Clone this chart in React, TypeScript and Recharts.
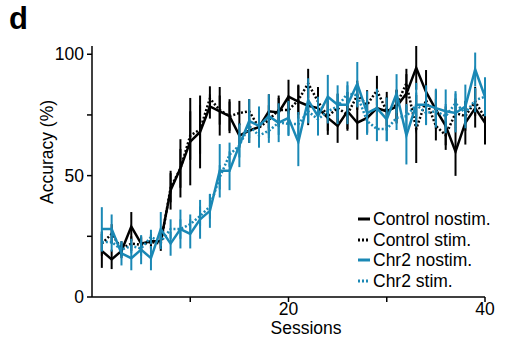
import { LineChart, Line, XAxis, YAxis, ErrorBar } from 'recharts';

const sessions = [1, 2, 3, 4, 5, 6, 7, 8, 9, 10, 11, 12, 13, 14, 15, 16, 17, 18, 19, 20,
  21, 22, 23, 24, 25, 26, 27, 28, 29, 30, 31, 32, 33, 34, 35, 36, 37, 38, 39, 40];

const controlNostim = [19, 15.5, 19, 29, 22, 23, 23, 44, 53, 64, 68, 78.5, 76.5, 74.5, 66.5, 68.5, 70, 76.5, 76, 82.5,
  80.5, 78.8, 77.8, 73.8, 70.5, 76.5, 71.8, 73.8, 77.8, 76.5, 78.5, 83.8, 94.4, 84.5, 77.2, 70.5, 59.9, 71.8, 77.8, 71.8];
const controlStim = [22, 26, 20, 22, 21.5, 22.7, 22, 45, 53, 66.5, 69, 81.8, 77, 74.5, 75.8, 76.5, 69.8, 73, 77, 77,
  81.1, 88, 80.5, 74.5, 77.8, 75.2, 83.1, 79.2, 85.1, 76.5, 79.2, 88, 69.2, 81.1, 70.5, 66.6, 75.8, 74.5, 80.5, 73.8];
const chr2Nostim = [28, 28, 18, 16, 19.5, 16, 28, 22, 28, 26, 32, 35.5, 52, 52, 62.5, 72.5, 70.5, 74.5, 71.8, 73.8,
  63.9, 81.1, 74.5, 82.5, 79.2, 79.2, 87.8, 75.8, 77.8, 73.2, 83.8, 66.6, 79.2, 79.2, 77.8, 76.5, 75.8, 78.5, 93.7, 82.5];
const chr2Stim = [22.7, 22.7, 19.5, 21, 20, 24.7, 22.7, 28, 28, 30, 33.3, 37.3, 49.3, 58.6, 62.5, 70.5, 66.5, 68.5, 71.8, 71.3,
  71.2, 76.5, 73.2, 76.5, 78.5, 83.8, 83.1, 72.5, 69.2, 69.2, 73.8, 74.5, 79.2, 75.8, 76.5, 74.5, 79.8, 75.8, 81.1, 82.5];

// SEM
const controlNostimErr = [7, 4, 3, 6, 3, 3, 3, 8, 12, 18, 15, 5, 10, 7, 5, 5, 6, 7, 6, 7,
  7, 8, 8, 7, 7, 8, 7, 6, 7, 8, 7, 8, 9, 9, 8, 8, 10, 9, 8, 9];
const controlStimErr = [5, 4, 3, 3, 3, 3, 3, 6, 8, 10, 10, 5, 6, 6, 5, 5, 6, 6, 6, 6,
  6, 6, 6, 6, 6, 6, 6, 6, 6, 6, 6, 6, 14, 6, 6, 6, 6, 6, 6, 6];
const chr2NostimErr = [9, 6, 5, 5, 6, 5, 7, 5, 8, 6, 8, 7, 11, 8, 9, 9, 8, 9, 8, 7,
  10, 9, 8, 9, 8, 8, 9, 9, 8, 9, 8, 12, 9, 8, 8, 9, 8, 9, 7, 8];
const chr2StimErr = [4, 4, 3, 3, 3, 3, 3, 4, 4, 4, 4, 5, 5, 5, 5, 5, 5, 5, 5, 5,
  5, 5, 5, 5, 5, 5, 5, 5, 5, 5, 5, 5, 5, 5, 5, 5, 5, 5, 5, 5];

const xTicks = [10, 20, 30, 40];
const xLabels = [20, 40];
const yTicks = [0, 25, 50, 75, 100];
const yLabels = [0, 50, 100];

const BLUE = '#1a88b5';
const FONT = '"Liberation Sans", Arial, sans-serif';

const data = sessions.map((s, i) => ({
  session: s,
  cn: controlNostim[i], cnErr: controlNostimErr[i],
  cs: controlStim[i], csErr: controlStimErr[i],
  bn: chr2Nostim[i], bnErr: chr2NostimErr[i],
  bs: chr2Stim[i], bsErr: chr2StimErr[i],
}));

const legendItems = [
  { label: 'Control nostim.', color: '#000', dash: undefined },
  { label: 'Control stim.', color: '#000', dash: '2 2' },
  { label: 'Chr2 nostim.', color: BLUE, dash: undefined },
  { label: 'Chr2 stim.', color: BLUE, dash: '2 2' },
];

function LegendBox() {
  return (
    <div style={{ position: 'absolute', left: 355, top: 209, fontFamily: FONT, fontSize: 17.5, color: '#000', lineHeight: '20.5px' }}>
      {legendItems.map((it) => (
        <div key={it.label} style={{ display: 'flex', alignItems: 'center' }}>
          <svg width={16} height={20} style={{ marginRight: 2 }}>
            <line x1={3} y1={10} x2={15} y2={10} stroke={it.color} strokeWidth={3} strokeDasharray={it.dash} />
          </svg>
          <span>{it.label}</span>
        </div>
      ))}
    </div>
  );
}

export default function App() {
  return (
    <div style={{ position: 'absolute', left: 0, top: 0, width: 520, height: 347, background: '#fff', fontFamily: FONT }}>
      <LineChart width={520} height={347} data={data} margin={{ top: 46, right: 35, bottom: 20, left: 52 }}>
        <XAxis
          dataKey="session"
          type="number"
          domain={[0, 40]}
          ticks={xTicks}
          tickFormatter={(v: number) => (xLabels.includes(v) ? String(v) : '')}
          height={30}
          tickSize={5}
          tickMargin={1}
          stroke="#000"
          strokeWidth={1.5}
          tick={{ fill: '#000', fontSize: 17.5, fontFamily: FONT }}
        />
        <YAxis
          type="number"
          domain={[0, 100]}
          ticks={yTicks}
          tickFormatter={(v: number) => (yLabels.includes(v) ? String(v) : '')}
          width={40}
          tickSize={5}
          tickMargin={3}
          stroke="#000"
          strokeWidth={1.5}
          tick={{ fill: '#000', fontSize: 17.5, fontFamily: FONT }}
        />
        <Line dataKey="cn" stroke="#000" strokeWidth={2.5} dot={false} isAnimationActive={false}>
          <ErrorBar dataKey="cnErr" width={0} stroke="#000" strokeWidth={2} />
        </Line>
        <Line dataKey="cs" stroke="#000" strokeWidth={2.5} strokeDasharray="2 2" dot={false} isAnimationActive={false}>
          <ErrorBar dataKey="csErr" width={0} stroke="#000" strokeWidth={2} />
        </Line>
        <Line dataKey="bn" stroke={BLUE} strokeWidth={2.5} dot={false} isAnimationActive={false}>
          <ErrorBar dataKey="bnErr" width={0} stroke={BLUE} strokeWidth={2} />
        </Line>
        <Line dataKey="bs" stroke={BLUE} strokeWidth={2.5} strokeDasharray="2 2" dot={false} isAnimationActive={false}>
          <ErrorBar dataKey="bsErr" width={0} stroke={BLUE} strokeWidth={2} />
        </Line>
      </LineChart>
      <LegendBox />
      <div style={{ position: 'absolute', left: 9, top: 2, fontSize: 31, lineHeight: '34px', fontWeight: 'bold', color: '#000' }}>d</div>
      <div style={{ position: 'absolute', left: 306, top: 318, transform: 'translateX(-50%)', fontSize: 17.5, color: '#000' }}>
        Sessions
      </div>
      <div
        style={{
          position: 'absolute', left: 47, top: 152, transform: 'translate(-50%, -50%) rotate(-90deg)',
          fontSize: 17.5, color: '#000', whiteSpace: 'nowrap',
        }}
      >
        Accuracy (%)
      </div>
    </div>
  );
}
